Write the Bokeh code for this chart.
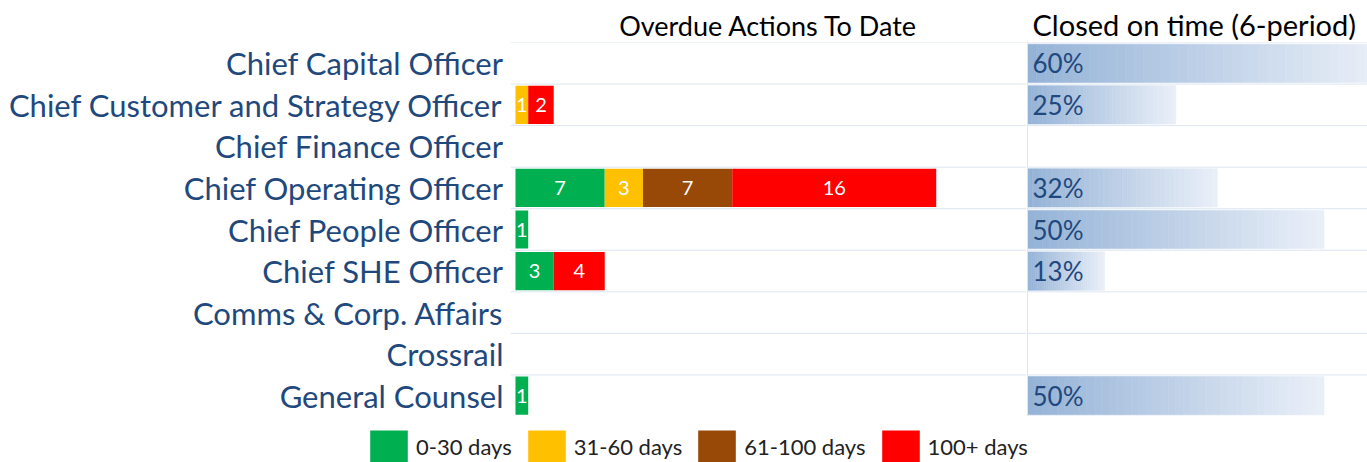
from bokeh.plotting import figure
from bokeh.models import Range1d, FactorRange, Span, Legend, LegendItem, ColumnDataSource
from bokeh.layouts import row, column
from bokeh.embed import file_html
from bokeh.resources import INLINE
from bokeh.core.properties import value

# ---------------- data ----------------
categories = [
    "Chief Capital Officer",
    "Chief Customer and Strategy Officer",
    "Chief Finance Officer",
    "Chief Operating Officer",
    "Chief People Officer",
    "Chief SHE Officer",
    "Comms & Corp. Affairs",
    "Crossrail",
    "General Counsel",
]
d0_30 = [0, 0, 0, 7, 1, 3, 0, 0, 1]
d31_60 = [0, 1, 0, 3, 0, 0, 0, 0, 0]
d61_100 = [0, 0, 0, 7, 0, 0, 0, 0, 0]
d100p = [0, 2, 0, 16, 0, 4, 0, 0, 0]
closed_on_time = [0.60, 0.25, None, 0.32, 0.50, 0.13, None, None, 0.50]

bands = ["0-30 days", "31-60 days", "61-100 days", "100+ days"]
band_keys = ["d0_30", "d31_60", "d61_100", "d100p"]
band_colors = ["#00B050", "#FFC000", "#984807", "#FF0000"]

FONT = "Lato"
LABEL_COLOR = "#1F497D"
GRID_COLOR = "#DCE6F2"

yr = FactorRange(factors=list(reversed(categories)), range_padding=0)
src = ColumnDataSource(dict(cat=categories, d0_30=d0_30, d31_60=d31_60, d61_100=d61_100, d100p=d100p))

# ---------------- overdue panel ----------------
p1 = figure(width=1026, height=416, y_range=yr, x_range=Range1d(-0.39, 40.08),
            output_backend="svg", toolbar_location=None,
            min_border_left=510, min_border_right=0, min_border_top=42, min_border_bottom=0,
            title="Overdue Actions To Date")
p1.outline_line_color = None
p1.xaxis.visible = False
p1.grid.visible = False
ax = p1.yaxis[0]
ax.axis_line_color = None
ax.major_tick_line_color = None
ax.minor_tick_line_color = None
ax.major_tick_out = 0
ax.major_tick_in = 0
ax.major_label_standoff = 7
ax.major_label_text_font = FONT
ax.major_label_text_font_size = "31px"
ax.major_label_text_color = LABEL_COLOR

p1.title.align = "center"
p1.title.text_font = FONT
p1.title.text_font_size = "27px"
p1.title.text_font_style = "normal"
p1.title.text_color = "black"
p1.title.standoff = 2

for k in range(len(categories) + 1):
    p1.add_layout(Span(location=k, dimension="width", line_color=GRID_COLOR, line_width=1))

rs = p1.hbar_stack(band_keys, y="cat", height=0.92, color=band_colors, line_color=None, source=src)

lx, ly, lt = [], [], []
series_list = [d0_30, d31_60, d61_100, d100p]
for i, c in enumerate(categories):
    left = 0
    for s in series_list:
        v = s[i]
        if v:
            lx.append(left + v / 2)
            ly.append(c)
            lt.append(str(v))
        left += v
p1.text(x=lx, y=ly, text=lt, text_align="center", text_baseline="middle",
        text_color="white", text_font=value(FONT), text_font_size="20px")

# ---------------- closed on time panel ----------------
p2 = figure(width=341, height=416, y_range=yr, x_range=Range1d(-0.0017, 0.5734),
            output_backend="svg", toolbar_location=None,
            min_border_left=0, min_border_right=0, min_border_top=42, min_border_bottom=0,
            title="Closed on time (6-period)")
p2.outline_line_color = None
p2.xaxis.visible = False
p2.yaxis.visible = False
p2.grid.visible = False
p2.title.align = "left"
p2.title.offset = 6
p2.title.text_font = FONT
p2.title.text_font_size = "29px"
p2.title.text_font_style = "normal"
p2.title.text_color = "black"
p2.title.standoff = 2

for k in range(len(categories) + 1):
    p2.add_layout(Span(location=k, dimension="width", line_color=GRID_COLOR, line_width=1))
p2.add_layout(Span(location=0, dimension="height", line_color=GRID_COLOR, line_width=1))

c0 = (0x95, 0xB3, 0xD7)
c1 = (0xE9, 0xEF, 0xF8)
n = 40
sl_left, sl_right, sl_y, sl_col = [], [], [], []
for c, v in zip(categories, closed_on_time):
    if v is None:
        continue
    for i in range(n):
        t = i / (n - 1)
        col = "#%02x%02x%02x" % tuple(int(round(a + (b - a) * t)) for a, b in zip(c0, c1))
        sl_left.append(v * i / n)
        sl_right.append(v * (i + 1) / n)
        sl_y.append(c)
        sl_col.append(col)
p2.hbar(y=sl_y, left=sl_left, right=sl_right, height=0.92,
        fill_color=sl_col, line_color=sl_col, line_width=0.6)

pc_y = [c for c, v in zip(categories, closed_on_time) if v is not None]
pc_t = ["%d%%" % round(v * 100) for v in closed_on_time if v is not None]
p2.text(x=[0] * len(pc_y), y=pc_y, text=pc_t, x_offset=5, text_align="left",
        text_baseline="middle", text_color=LABEL_COLOR, text_font=value(FONT),
        text_font_size="26px")

# ---------------- legend strip ----------------
pl = figure(width=1367, height=46, x_range=Range1d(0, 40), y_range=yr,
            output_backend="svg", toolbar_location=None, min_border=0)
pl.outline_line_color = None
pl.axis.visible = False
pl.grid.visible = False
lrs = pl.hbar_stack(band_keys, y="cat", height=0.92, color=band_colors, line_color=None,
                    source=src, visible=False)
legend = Legend(items=[LegendItem(label=b, renderers=[r]) for b, r in zip(bands, lrs)],
                location=(365, -4), orientation="horizontal",
                glyph_width=47, glyph_height=40, label_standoff=4, spacing=11,
                padding=0, margin=0, border_line_color=None, background_fill_alpha=0,
                label_text_font=FONT, label_text_font_size="22px", label_text_color="#222222")
pl.add_layout(legend)

layout = column(row(p1, p2), pl)
open("out.html", "w").write(file_html(layout, INLINE))
